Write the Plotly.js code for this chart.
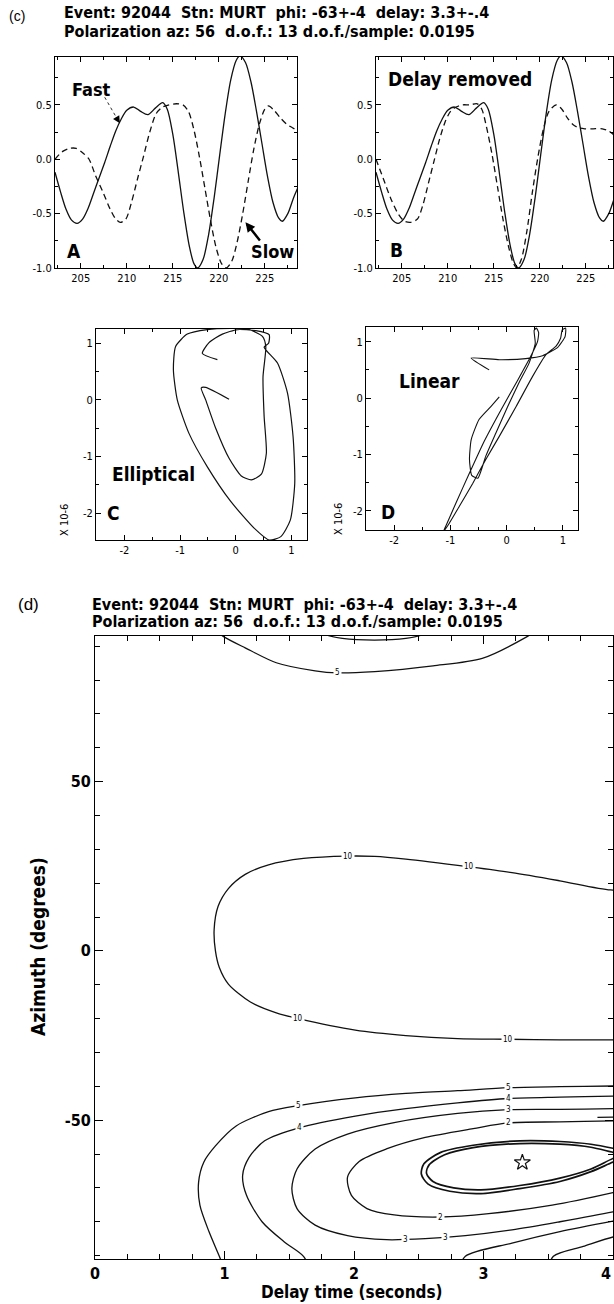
<!DOCTYPE html>
<html><head><meta charset="utf-8">
<script src="https://cdn.plot.ly/plotly-3.0.1.min.js"></script>
<style>html,body{margin:0;padding:0;background:#fff;}#chart{width:614px;height:1304px;}</style>
</head><body><div id="chart"></div>
<script>
// ---------- Panel A / B waveforms ----------
const fastTime = [202.2,202.8,203.4,204.0,204.6,205.2,205.8,206.4,207.0,207.6,208.2,208.8,209.4,210.0,210.75,211.5,212.3,213.1,213.9,214.4,215.0,215.6,216.2,216.8,217.3,217.7,218.3,218.9,219.5,220.1,220.7,221.3,221.9,222.3,222.9,223.5,224.1,224.7,225.3,225.9,226.5,226.9,227.5,228.1,228.6];
const fastAmp  = [-0.12,-0.30,-0.46,-0.56,-0.59,-0.55,-0.45,-0.31,-0.17,-0.03,0.12,0.26,0.37,0.45,0.48,0.44,0.41,0.47,0.52,0.46,0.23,-0.12,-0.49,-0.80,-0.96,-1.0,-0.92,-0.69,-0.35,0.04,0.42,0.73,0.91,0.95,0.89,0.71,0.44,0.14,-0.16,-0.40,-0.54,-0.57,-0.50,-0.36,-0.26];
const slowTime = [202.2,203.0,203.8,204.5,205.2,205.9,206.6,207.4,208.2,208.8,209.3,209.9,210.5,211.2,211.8,212.5,213.2,213.9,214.6,215.4,216.1,216.7,217.3,217.9,218.5,219.1,219.7,220.3,220.8,221.4,222.0,222.6,223.2,223.8,224.4,225.0,225.4,226.0,226.7,227.4,228.0,228.6];
const slowAmp  = [0.00,0.07,0.10,0.10,0.06,0.0,-0.15,-0.30,-0.46,-0.55,-0.58,-0.55,-0.40,-0.17,0.02,0.25,0.42,0.48,0.50,0.51,0.50,0.44,0.27,0.02,-0.27,-0.56,-0.81,-0.96,-1.0,-0.94,-0.76,-0.50,-0.20,0.09,0.32,0.46,0.49,0.45,0.38,0.32,0.29,0.26];
const corrTime = [202.2,203.0,203.8,204.6,205.3,206.0,206.7,207.3,207.9,208.5,209.1,209.7,210.3,210.9,211.6,212.4,213.2,213.7,214.2,214.8,215.4,216.0,216.6,217.1,217.5,218.0,218.6,219.2,219.8,220.4,221.0,221.8,222.4,223.0,223.6,224.2,224.9,225.8,226.8,227.5,228.1];
const corrAmp  = [0.00,-0.18,-0.36,-0.50,-0.57,-0.58,-0.55,-0.42,-0.22,-0.02,0.18,0.34,0.44,0.48,0.50,0.50,0.51,0.46,0.30,0.05,-0.25,-0.55,-0.80,-0.95,-1.0,-0.92,-0.66,-0.30,0.02,0.28,0.44,0.50,0.46,0.38,0.32,0.29,0.28,0.28,0.28,0.26,0.22];
const timeTicks = [205,210,215,220,225];
const ampTicks = [-1.0,-0.5,0.0,0.5];
const ampTickText = ['-1.0','-0.5','0.0','0.5'];

// ---------- Panel C / D particle motion ----------
const ellipX = [-0.33,-0.60,-0.48,-0.24,0.03,0.36,0.60,0.59,0.51,0.75,0.93,1.03,1.06,0.98,0.81,0.60,0.33,-0.09,-0.51,-0.84,-1.05,-1.12,-1.08,-0.87,-0.51,-0.09,0.21,0.48,0.54,0.49,0.51,0.55,0.46,0.28,0.10,-0.12,-0.36,-0.54,-0.62,-0.54,-0.12];
const ellipY = [0.71,0.82,1.01,1.16,1.24,1.22,1.15,1.00,0.93,0.65,0.12,-0.65,-1.47,-2.12,-2.41,-2.47,-2.26,-1.79,-1.18,-0.59,0.0,0.53,0.94,1.16,1.24,1.26,1.25,1.12,0.94,0.41,-0.29,-0.94,-1.31,-1.41,-1.34,-1.03,-0.50,0.0,0.21,0.22,0.01];
const linX = [-0.31,-0.63,-0.13,0.34,0.64,0.91,1.04,1.05,0.99,0.96,0.88,0.70,0.46,0.17,-0.13,-0.37,-0.60,-0.84,-1.05,-1.12,-1.08,-0.90,-0.66,-0.40,-0.10,0.20,0.43,0.55,0.57,0.53,0.49,0.51,0.40,0.22,0.02,-0.19,-0.37,-0.51,-0.62,-0.66,-0.63,-0.49,-0.28,-0.13];
const linY = [0.50,0.71,0.68,0.70,0.75,0.90,1.09,1.24,1.21,1.06,0.92,0.77,0.38,-0.15,-0.68,-1.09,-1.51,-1.92,-2.27,-2.36,-2.27,-1.86,-1.33,-0.77,-0.21,0.32,0.74,1.00,1.16,1.24,1.20,0.97,0.62,0.27,-0.15,-0.62,-1.03,-1.42,-1.37,-1.09,-0.74,-0.38,-0.15,0.02];
const pmTicks = [-2,-1,0,1];
const pmTickText = ['-2','-1','0','1'];

// ---------- Panel (d) contour lines (delay s, azimuth deg) ----------
const c5TopX = [0.91,0.99,1.16,1.40,1.70,1.87,2.16,2.61,2.99,3.34,3.42];
const c5TopY = [95.3,92.9,89.5,85.1,82.7,82.1,82.5,84.2,86.4,92.9,94.9];
const c4TopX = [1.72,1.79,1.91,2.16,2.40,2.52,2.58];
const c4TopY = [95,93.3,92.3,91.8,92.3,93.3,95];
const c10X = [4.13,3.98,3.59,3.22,2.89,2.40,2.16,1.95,1.61,1.34,1.16,1.03,0.95,0.92,0.93,0.96,1.03,1.20,1.40,1.57,2.01,2.40,2.80,3.19,3.59,4.0,4.13];
const c10Y = [18.3,18.0,20.7,23.1,24.8,27.1,27.9,28.0,27.3,25.4,22.6,18.4,13.1,6.3,0,-4.9,-9.8,-15.1,-18.3,-20.0,-23.4,-25.0,-25.9,-26.1,-26.3,-26.3,-26.3];
const c5X = [1.01,0.96,0.88,0.81,0.80,0.84,0.93,1.09,1.34,1.57,2.01,2.40,2.80,3.19,3.59,4.0,4.13];
const c5Y = [-95.1,-90.2,-82.9,-75.1,-68.3,-62.4,-57.6,-51.7,-47.5,-45.7,-43.4,-42.1,-41.3,-40.4,-40.1,-39.9,-39.9];
const c4X = [1.67,1.61,1.46,1.29,1.17,1.14,1.19,1.31,1.58,2.01,2.40,2.80,3.19,3.59,4.0,4.13];
const c4Y = [-95.1,-90.2,-85.9,-80.0,-72.2,-66.3,-61.0,-56.1,-52.2,-48.8,-46.6,-44.9,-43.6,-43.2,-42.9,-42.9];
const c3X = [4.13,4.0,3.59,3.19,2.80,2.31,1.95,1.70,1.56,1.52,1.56,1.70,1.95,2.25,2.55,2.86,3.22,3.59,4.0,4.13];
const c3Y = [-46.6,-46.6,-46.8,-46.9,-48.0,-50.7,-54.1,-58.5,-64.4,-70.2,-76.1,-81.0,-84.1,-85.3,-85.0,-84.1,-82.4,-80.0,-77.1,-76.0];
const c2X = [4.13,4.0,3.59,3.19,2.92,2.55,2.25,2.04,1.95,1.98,2.10,2.31,2.67,3.04,3.53,4.0,4.13];
const c2Y = [-50.2,-50.2,-50.5,-50.8,-52.5,-55.1,-58.5,-62.2,-66.8,-72.2,-76.1,-78.0,-78.6,-77.6,-75.1,-71.4,-70.2];
const c1aX = [4.13,4.0,3.83,3.59,3.28,2.92,2.67,2.54,2.52,2.57,2.74,2.98,3.28,3.59,3.83,4.0,4.13];
const c1aY = [-59.5,-58.3,-57.1,-56.3,-56.1,-57.4,-59.5,-62.9,-65.9,-68.8,-71.0,-71.7,-70.2,-68.1,-65.2,-62.4,-60.5];
const c1bX = [4.13,4.0,3.83,3.59,3.28,2.92,2.70,2.58,2.56,2.61,2.77,2.98,3.28,3.59,3.83,4.0,4.13];
const c1bY = [-60.5,-59.5,-58.0,-57.1,-56.9,-58.1,-60.2,-63.2,-65.7,-68.1,-70.0,-70.6,-69.3,-67.1,-64.4,-61.3,-59.5];
const c4LowX = [2.80,2.86,3.22,3.59,4.0,4.13];
const c4LowY = [-95,-90.2,-86.3,-82.9,-79.8,-78.9];
const c5LowX = [3.49,3.54,3.77,4.0,4.13];
const c5LowY = [-95,-90.2,-87.3,-84.5,-83.7];
const cShortX = [3.88,4.13];
const cShortY = [-49.2,-49.0];
const labelText = ['5','10','10','10','10','5','5','4','4','3','3','3','2','2'];
const labelX = [1.87,1.95,2.89,1.57,3.19,1.57,3.19,1.58,3.19,3.19,2.40,2.71,3.19,2.67];
const labelY = [82.1,28.0,24.8,-20.0,-26.1,-45.7,-40.4,-52.2,-43.6,-46.9,-85.2,-84.7,-50.8,-78.6];
const bestDelay = [3.3];
const bestPhi = [-62.5];
const delayTicks = [0,1,2,3,4];
const delayTickText = ['0','1','2','3',''];
const azTicks = [-50,0,50];

const titleLine1 = 'Event: 92044  Stn: MURT  phi: -63+-4  delay: 3.3+-.4';
const titleLine2 = 'Polarization az: 56  d.o.f.: 13 d.o.f./sample: 0.0195';

// ---------- layout helpers ----------
const W = 614, H = 1304;
const fx = p => p / W, fy = p => 1 - p / H;
const NARROW = '"Liberation Sans Narrow", "DejaVu Sans Condensed", "Arial Narrow", sans-serif';
const tickFontC = {family: NARROW, size: 11, color: '#000'};
const tickFontD = {family: NARROW, size: 16, color: '#000', weight: 'bold'};

function axis(o, minorDtick, minorLen) {
  return Object.assign({
    showline: true, linecolor: '#000', linewidth: 1, mirror: 'ticks',
    ticks: 'inside', ticklen: 5, tickwidth: 1, tickcolor: '#000',
    showgrid: false, zeroline: false, fixedrange: true, tickmode: 'array',
    minor: {ticks: 'inside', ticklen: minorLen || 3, tickwidth: 1, tickcolor: '#000', dtick: minorDtick, tick0: 0, showgrid: false}
  }, o);
}

const line = (x, y, xa, ya, extra) => Object.assign({
  type: 'scatter', mode: 'lines', x: x, y: y, xaxis: xa, yaxis: ya,
  line: {color: '#111', width: 1.3, shape: 'spline', smoothing: 0.8}, hoverinfo: 'skip'
}, extra || {});

const dashed = {line: {color: '#111', width: 1.3, dash: '6px,4px', shape: 'spline', smoothing: 0.8}};
const thick = {line: {color: '#111', width: 1.7, shape: 'spline', smoothing: 0.8}};

const traces = [
  line(fastTime, fastAmp, 'x', 'y'),
  line(slowTime, slowAmp, 'x', 'y', dashed),
  line(fastTime, fastAmp, 'x2', 'y2'),
  line(corrTime, corrAmp, 'x2', 'y2', dashed),
  line(ellipX, ellipY, 'x3', 'y3', {line: {color: '#111', width: 1.2, shape: 'spline', smoothing: 0.6}}),
  line(linX, linY, 'x4', 'y4', {line: {color: '#111', width: 1.1, shape: 'spline', smoothing: 0.5}}),
  line([207.6, 208.9], [0.57, 0.38], 'x', 'y', {line: {color: '#333', width: 1, dash: 'dot'}}),
  line(c5TopX, c5TopY, 'x5', 'y5'),
  line(c4TopX, c4TopY, 'x5', 'y5'),
  line(c10X, c10Y, 'x5', 'y5'),
  line(c5X, c5Y, 'x5', 'y5'),
  line(c4X, c4Y, 'x5', 'y5'),
  line(c3X, c3Y, 'x5', 'y5'),
  line(c2X, c2Y, 'x5', 'y5'),
  line(c1aX, c1aY, 'x5', 'y5', thick),
  line(c1bX, c1bY, 'x5', 'y5', thick),
  line(c4LowX, c4LowY, 'x5', 'y5'),
  line(c5LowX, c5LowY, 'x5', 'y5'),
  line(cShortX, cShortY, 'x5', 'y5'),
  {type: 'scatter', mode: 'markers', x: bestDelay, y: bestPhi, xaxis: 'x5', yaxis: 'y5',
   marker: {symbol: 'star-open', size: 12, color: '#111', line: {width: 1.2, color: '#111'}}, hoverinfo: 'skip'}
];

const ann = [];
function txt(text, x, y, xref, yref, size, opts) {
  ann.push(Object.assign({text: text, x: x, y: y, xref: xref, yref: yref, showarrow: false,
    font: {family: NARROW, size: size, color: '#000'}, xanchor: 'center', yanchor: 'middle'}, opts || {}));
}
// titles
txt('(c)', fx(17), fy(16), 'paper', 'paper', 14, {font: {family: 'Liberation Sans, Arial, sans-serif', size: 14, color: '#000'}});
txt('<b>' + titleLine1 + '</b>', fx(62), fy(13), 'paper', 'paper', 16, {xanchor: 'left'});
txt('<b>' + titleLine2 + '</b>', fx(62), fy(31), 'paper', 'paper', 16, {xanchor: 'left'});
txt('(d)', fx(28), fy(605), 'paper', 'paper', 17, {font: {family: 'Liberation Sans, Arial, sans-serif', size: 17, color: '#000'}});
txt('<b>' + titleLine1 + '</b>', fx(90), fy(604), 'paper', 'paper', 16, {xanchor: 'left'});
txt('<b>' + titleLine2 + '</b>', fx(90), fy(621), 'paper', 'paper', 16, {xanchor: 'left'});
// panel labels
txt('<b>Fast</b>', 206.2, 0.64, 'x', 'y', 18);
txt('<b>Slow</b>', 225.8, -0.85, 'x', 'y', 18);
txt('<b>A</b>', 204.3, -0.84, 'x', 'y', 19);
txt('<b>B</b>', 204.4, -0.83, 'x2', 'y2', 19);
txt('<b>Delay removed</b>', 211.3, 0.74, 'x2', 'y2', 19);
txt('<b>Elliptical</b>', -1.47, -1.31, 'x3', 'y3', 19);
txt('<b>C</b>', -2.2, -2.0, 'x3', 'y3', 19);
txt('<b>Linear</b>', -1.37, 0.31, 'x4', 'y4', 19);
txt('<b>D</b>', -2.1, -2.02, 'x4', 'y4', 19);
txt('X 10-6', fx(65), fy(520), 'paper', 'paper', 11, {textangle: -90});
txt('X 10-6', fx(338), fy(519), 'paper', 'paper', 11, {textangle: -90});
// last delay tick label, kept inside the page
txt('<b>4</b>', fx(613), fy(1262), 'paper', 'paper', 16, {xanchor: 'right', yanchor: 'top'});
// arrows
ann.push({x: 209.25, y: 0.33, ax: 208.75, ay: 0.40, xref: 'x', yref: 'y', axref: 'x', ayref: 'y', text: '',
  showarrow: true, arrowhead: 2, arrowsize: 1.2, arrowwidth: 1.2, arrowcolor: '#000', standoff: 0});
ann.push({x: 222.9, y: -0.58, ax: 224.6, ay: -0.76, xref: 'x', yref: 'y', axref: 'x', ayref: 'y', text: '',
  showarrow: true, arrowhead: 2, arrowsize: 0.8, arrowwidth: 2.4, arrowcolor: '#000', standoff: 0});
// contour labels
for (let i = 0; i < labelText.length; i++) {
  ann.push({text: labelText[i], x: labelX[i], y: labelY[i], xref: 'x5', yref: 'y5', showarrow: false,
    font: {family: NARROW, size: 8, color: '#000'}, bgcolor: '#fff', borderpad: 1});
}
// axis titles (d)
txt('<b>Azimuth (degrees)</b>', fx(38), fy(947), 'paper', 'paper', 19, {textangle: -90});
txt('<b>Delay time (seconds)</b>', fx(352), fy(1292), 'paper', 'paper', 17);

const layout = {
  width: W, height: H, margin: {l: 0, r: 0, t: 0, b: 0}, paper_bgcolor: '#fff', plot_bgcolor: 'rgba(0,0,0,0)',
  showlegend: false, font: {family: NARROW, color: '#000'},
  xaxis: axis({domain: [fx(55), fx(297)], range: [202.2, 228.5], tickvals: timeTicks, ticktext: timeTicks.map(String), tickfont: tickFontC, anchor: 'y'}, 2.5),
  yaxis: axis({domain: [fy(268), fy(57)], range: [-1.0, 0.94], tickvals: ampTicks, ticktext: ampTickText, tickfont: tickFontC, anchor: 'x'}, 0.25),
  xaxis2: axis({domain: [fx(376), fx(613)], range: [202.2, 227.96], tickvals: timeTicks, ticktext: timeTicks.map(String), tickfont: tickFontC, anchor: 'y2'}, 2.5),
  yaxis2: axis({domain: [fy(268), fy(57)], range: [-1.0, 0.94], tickvals: ampTicks, ticktext: ampTickText, tickfont: tickFontC, anchor: 'x2'}, 0.25),
  xaxis3: axis({domain: [fx(96), fx(307)], range: [-2.51, 1.28], tickvals: pmTicks, ticktext: pmTickText, tickfont: tickFontC, anchor: 'y3'}, 0.5),
  yaxis3: axis({domain: [fy(540), fy(329)], range: [-2.47, 1.25], tickvals: pmTicks, ticktext: pmTickText, tickfont: tickFontC, anchor: 'x3'}, 0.5),
  xaxis4: axis({domain: [fx(366), fx(578)], range: [-2.5, 1.27], tickvals: pmTicks, ticktext: pmTickText, tickfont: tickFontC, anchor: 'y4'}, 0.5),
  yaxis4: axis({domain: [fy(530), fy(327)], range: [-2.34, 1.26], tickvals: pmTicks, ticktext: pmTickText, tickfont: tickFontC, anchor: 'x4'}, 0.5),
  xaxis5: axis({domain: [fx(95), fx(613)], range: [0, 4], tickvals: delayTicks, ticktext: delayTickText, tickfont: tickFontD, ticklen: 8, anchor: 'y5'}, 0.25, 5),
  yaxis5: axis({domain: [fy(1259), fy(636)], range: [-91, 93], tickvals: azTicks, ticktext: azTicks.map(String), tickfont: tickFontD, ticklen: 8, anchor: 'x5'}, 10, 5),
  annotations: ann
};

Plotly.newPlot('chart', traces, layout, {staticPlot: true, displayModeBar: false});
</script></body></html>
